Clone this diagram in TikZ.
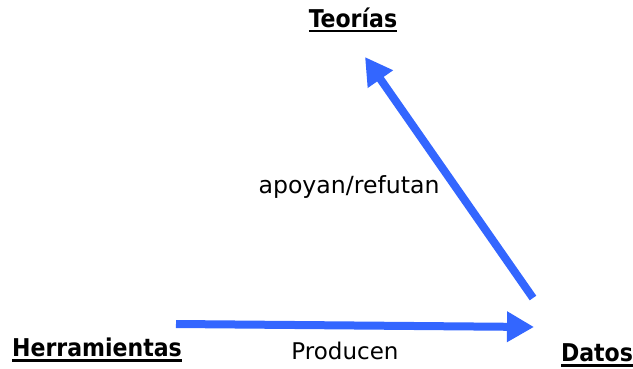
\documentclass[tikz,border=0pt]{standalone}
\usepackage{fontspec}
\setmainfont{DejaVu Sans Condensed}
\newfontfamily\widesans{DejaVu Sans}
\usetikzlibrary{arrows.meta}
\tikzset{>={Triangle[length=27pt,width=29pt]}}
\newcommand{\heavyul}[1]{\vtop{\hbox{#1}\kern2pt\hrule height 2.8pt}}

\begin{document}
\begin{tikzpicture}[x=1pt,y=-1pt]
\useasboundingbox (0,0) rectangle (633,368);
\node[font=\bfseries\fontsize{24.5}{28}\selectfont] (teo) at (353,20) {\heavyul{Teorías}};
\node[font=\bfseries\fontsize{24.5}{28}\selectfont] (herr) at (97,350) {\heavyul{Herramientas}};
\node[font=\bfseries\fontsize{24.5}{28}\selectfont] (dat) at (597,355) {\heavyul{Datos}};
\node[font=\widesans\fontsize{23.6}{27}\selectfont] (apo) at (349,187) {apoyan/refutan};
\node[font=\widesans\fontsize{23}{26}\selectfont] (pro) at (345,351) {Producen};
\coordinate (a) at (176,324);
\coordinate (b) at (534,327);
\coordinate (c) at (533,298);
\coordinate (d) at (365,57);
\draw[->, line width=8pt, color={rgb,255:red,51;green,102;blue,255}] (a) -- (b);
\draw[->, line width=8pt, color={rgb,255:red,51;green,102;blue,255}] (c) -- (d);
\end{tikzpicture}
\end{document}
